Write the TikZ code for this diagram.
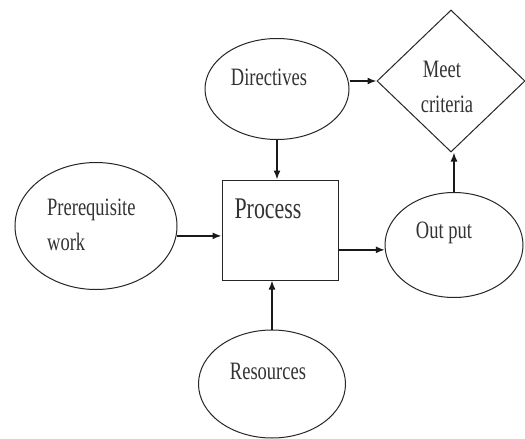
\documentclass[tikz,border=0pt]{standalone}
\usepackage{fontspec}
\usepackage{graphicx}
\setmainfont{Liberation Serif}
\usetikzlibrary{shapes.geometric,arrows.meta}
\newcommand\condtxt[1]{\scalebox{0.74}[1]{#1}}
\tikzset{
  shapeline/.style={draw=black!85, line width=1pt, inner sep=0pt, fill=white},
  oval/.style={shapeline, ellipse},
  arr/.style={draw=black!90, line width=1.5pt, -{Latex[length=9pt,width=7pt]}},
  lbl/.style={anchor=base, inner sep=0pt, text=black!80, font=\fontsize{25}{35}\selectfont},
  biglbl/.style={anchor=base, inner sep=0pt, text=black!80, font=\fontsize{30}{35}\selectfont},
}
\begin{document}
\begin{tikzpicture}[x=1pt,y=-1pt]
\useasboundingbox[fill=white] (0,0) rectangle (525,439);
% shapes
\node[oval, minimum width=144pt, minimum height=101pt] (dir) at (277,89) {};
\node[shapeline, diamond, minimum width=148pt, minimum height=142pt] (dia) at (451,81) {};
\node[oval, minimum width=162pt, minimum height=127pt] (pre) at (96,226) {};
\node[shapeline, rectangle, minimum width=116pt, minimum height=100pt] (box) at (280,230) {};
\node[oval, minimum width=138pt, minimum height=105pt] (out) at (454,245) {};
\node[oval, minimum width=147pt, minimum height=108pt] (res) at (272,384) {};
% labels
\node[lbl] (tdir) at (269,85) {\condtxt{Directives}};
\node[lbl] (tmeet) at (442,77) {\condtxt{Meet}};
\node[lbl] (tcrit) at (447,112) {\condtxt{criteria}};
\node[lbl, anchor=base west] (tpre1) at (47,215) {\condtxt{Prerequisite}};
\node[lbl, anchor=base west] (tpre2) at (47,250) {\condtxt{work}};
\node[biglbl] (tproc) at (268,218) {\scalebox{0.73}[1]{Process}};
\node[lbl] (tout) at (444,238) {\condtxt{Out put}};
\node[lbl] (tres) at (268,379) {\condtxt{Resources}};
% connectors
\draw[arr] (dir.south) -- (dir.south |- box.north);
\draw[arr] (dia.west -| dir.east) -- (dia.west);
\draw[arr] (pre.-7) -- (pre.-7 -| box.west);
\draw[arr] (out.184 -| box.east) -- (out.184);
\draw[arr] (out.north) -- (out.north |- dia.south);
\draw[arr] (res.north) -- (res.north |- box.south);
\end{tikzpicture}
\end{document}
